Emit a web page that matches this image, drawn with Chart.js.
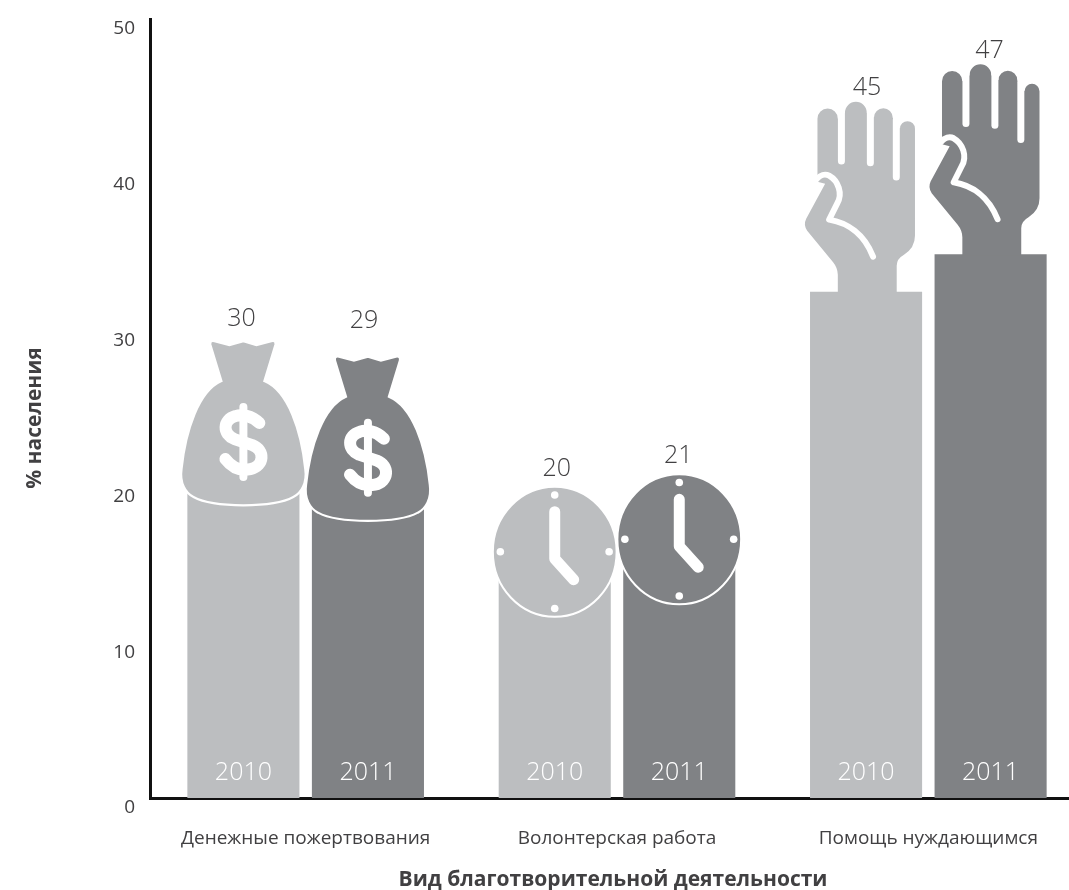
<!DOCTYPE html>
<html>
<head>
<meta charset="utf-8">
<script src="https://cdn.jsdelivr.net/npm/chart.js@4/dist/chart.umd.min.js"></script>
<style>
html, body { margin: 0; padding: 0; background: #fff; overflow: hidden; }
canvas { display: block; }
</style>
</head>
<body>
<canvas id="chart" width="1084" height="890"></canvas>
<script>
var categories = ['Денежные пожертвования', 'Волонтерская работа', 'Помощь нуждающимся'];
var years = ['2010', '2011'];
var values2010 = [30, 20, 45];
var values2011 = [29, 21, 47];
// the visible column stops below the icon, the icon carries it up to the value
var columns2010 = [19.7, 14.6, 32.5];
var columns2011 = [18.7, 15.4, 34.9];
var yTicks = [0, 10, 20, 30, 40, 50];

var values = [values2010, values2011];
var colors = ['#bcbec0', '#808285'];
var icons = ['bag', 'clock', 'hand'];
var labelLift = [[12, 18, 9], [25, 15, 15]];
var labelShift = [[-2, 2, 1], [-4, -1, -1]];
var textColor = '#414042';
var fontName = '"Open Sans", "Noto Sans", sans-serif';

function drawBag(ctx) {
    ctx.beginPath();
    ctx.moveTo(-22, -110);
    ctx.lineTo(-33, -146);
    ctx.quadraticCurveTo(-34, -151, -29, -150);
    ctx.lineTo(-14, -146);
    ctx.lineTo(0, -150);
    ctx.lineTo(13, -146);
    ctx.lineTo(28, -150);
    ctx.quadraticCurveTo(33, -151, 32, -146);
    ctx.lineTo(21, -110);
    ctx.bezierCurveTo(45, -100, 58, -60, 62, -22);
    ctx.bezierCurveTo(64, -8, 58, 2, 50, 6);
    ctx.bezierCurveTo(30, 17, -30, 17, -50, 6);
    ctx.bezierCurveTo(-58, 2, -64, -8, -62, -22);
    ctx.bezierCurveTo(-58, -60, -45, -100, -22, -110);
    ctx.closePath();
    ctx.fill();
    ctx.lineWidth = 2.2;
    ctx.stroke();

    // dollar sign
    ctx.save();
    ctx.translate(0, -49);
    ctx.lineCap = 'round';
    ctx.lineJoin = 'round';
    ctx.lineWidth = 8;
    ctx.beginPath();
    ctx.moveTo(0, -35);
    ctx.lineTo(0, 35);
    ctx.stroke();
    ctx.lineWidth = 12;
    ctx.beginPath();
    ctx.moveTo(16, -19);
    ctx.bezierCurveTo(8, -27, -2, -28, -8, -26);
    ctx.bezierCurveTo(-21, -22, -21, -8, -9, -3);
    ctx.lineTo(9, 3);
    ctx.bezierCurveTo(22, 8, 21, 24, 7, 27);
    ctx.bezierCurveTo(-2, 29, -11, 26, -18, 17);
    ctx.stroke();
    ctx.restore();
}

function drawClock(ctx) {
    ctx.save();
    ctx.translate(0, -18.8);
    ctx.beginPath();
    ctx.ellipse(0, 0, 62, 65, 0, 0, Math.PI * 2);
    ctx.fill();
    ctx.lineWidth = 2;
    ctx.stroke();
    ctx.fillStyle = '#fff';
    [[54.5, 0], [-54.5, 0], [0, 56.7], [0, -56.7]].forEach(function (d) {
        ctx.beginPath();
        ctx.arc(d[0], d[1], 3.8, 0, Math.PI * 2);
        ctx.fill();
    });
    ctx.lineCap = 'round';
    ctx.lineJoin = 'round';
    ctx.lineWidth = 11;
    ctx.beginPath();
    ctx.moveTo(0, -40);
    ctx.lineTo(0, 7);
    ctx.lineTo(19, 28);
    ctx.stroke();
    ctx.restore();
}

function drawHand(ctx) {
    ctx.beginPath();
    ctx.moveTo(-28.3, 1);
    ctx.lineTo(-28.3, -17);
    ctx.quadraticCurveTo(-28.5, -24, -33, -29.5);
    ctx.lineTo(-59, -61);
    ctx.quadraticCurveTo(-63, -67, -60, -73);
    ctx.lineTo(-41, -108);
    ctx.lineTo(-48.7, -110);
    ctx.lineTo(-48.7, -173);
    ctx.arc(-38.5, -173, 10.2, Math.PI, 0);
    ctx.lineTo(-21, -179);
    ctx.arc(-10.2, -179, 10.9, Math.PI, 0);
    ctx.lineTo(8, -174);
    ctx.arc(17.3, -174, 9.4, Math.PI, 0);
    ctx.lineTo(34, -163);
    ctx.arc(41.5, -163, 7.5, Math.PI, 0);
    ctx.lineTo(49, -56);
    ctx.quadraticCurveTo(49, -44, 38, -37);
    ctx.quadraticCurveTo(30.7, -33, 30.7, -26);
    ctx.lineTo(30.7, 1);
    ctx.closePath();
    ctx.fill();

    // gaps between the fingers and the line of the thumb
    ctx.lineCap = 'round';
    ctx.lineWidth = 7;
    [[-24.7, -127.7, -182], [4.3, -126, -182], [30.3, -111.7, -172]].forEach(function (g) {
        ctx.beginPath();
        ctx.moveTo(g[0], g[2]);
        ctx.lineTo(g[0], g[1] - 3);
        ctx.stroke();
    });
    ctx.lineWidth = 6;
    ctx.lineJoin = 'round';
    ctx.beginPath();
    ctx.moveTo(-50, -112);
    ctx.bezierCurveTo(-46, -117, -41, -118, -37, -116);
    ctx.bezierCurveTo(-28, -111, -23, -98, -29, -88);
    ctx.lineTo(-37, -72);
    ctx.bezierCurveTo(-19, -69, -2, -58, 7, -35);
    ctx.stroke();
}

var drawIcon = { bag: drawBag, clock: drawClock, hand: drawHand };

var pictogramPlugin = {
    id: 'pictograms',
    afterDatasetsDraw: function (chart) {
        var ctx = chart.ctx;
        var y = chart.scales.y;
        years.forEach(function (year, i) {
            chart.getDatasetMeta(i).data.forEach(function (bar, j) {
                var k = bar.width / 112.3;
                ctx.save();
                ctx.translate(bar.x, bar.y);
                ctx.scale(k, 1);
                ctx.fillStyle = colors[i];
                ctx.strokeStyle = '#fff';
                drawIcon[icons[j]](ctx);
                ctx.restore();

                ctx.save();
                ctx.textAlign = 'center';
                ctx.textBaseline = 'middle';
                ctx.font = '300 25px ' + fontName;
                ctx.fillStyle = textColor;
                ctx.fillText(values[i][j], bar.x + labelShift[i][j], y.getPixelForValue(values[i][j]) - labelLift[i][j]);
                ctx.fillStyle = '#fff';
                ctx.fillText(year, bar.x, y.getPixelForValue(0) - 25);
                ctx.restore();
            });
        });

        // axis titles sit off the centre of their axes in the reference
        ctx.save();
        ctx.fillStyle = textColor;
        ctx.textAlign = 'center';
        ctx.textBaseline = 'middle';
        ctx.font = '700 21px ' + fontName;
        ctx.fillText('Вид благотворительной деятельности', 613, 880);
        ctx.translate(35, 418);
        ctx.rotate(-Math.PI / 2);
        ctx.fillText('% населения', 0, 0);
        ctx.restore();
    }
};

new Chart(document.getElementById('chart').getContext('2d'), {
    type: 'bar',
    data: {
        labels: categories,
        datasets: [
            { label: years[0], data: columns2010, backgroundColor: colors[0], borderWidth: 0 },
            { label: years[1], data: columns2011, backgroundColor: colors[1], borderWidth: 0 }
        ]
    },
    options: {
        responsive: false,
        animation: false,
        categoryPercentage: 0.8,
        barPercentage: 0.9,
        layout: { padding: { top: 19, left: 0, right: 0, bottom: 0 } },
        plugins: { legend: { display: false }, tooltip: { enabled: false } },
        scales: {
            x: {
                afterFit: function (scale) { scale.height = 92; scale.paddingLeft = 0; scale.paddingRight = 0; },
                grid: { display: false, drawTicks: false },
                border: { color: '#111', width: 3 },
                ticks: {
                    color: textColor,
                    padding: 29,
                    maxRotation: 0,
                    autoSkip: false,
                    font: { family: fontName, size: 19 }
                }
            },
            y: {
                min: 0,
                max: 50,
                afterFit: function (scale) { scale.width = 150; scale.paddingTop = 0; scale.paddingBottom = 0; },
                afterBuildTicks: function (scale) {
                    scale.ticks = yTicks.map(function (v) { return { value: v }; });
                },
                grid: { display: false, drawTicks: false },
                border: { color: '#111', width: 3 },
                ticks: {
                    color: textColor,
                    padding: 15,
                    labelOffset: 10,
                    font: { family: fontName, size: 19 }
                }
            }
        }
    },
    plugins: [pictogramPlugin]
});
</script>
</body>
</html>
